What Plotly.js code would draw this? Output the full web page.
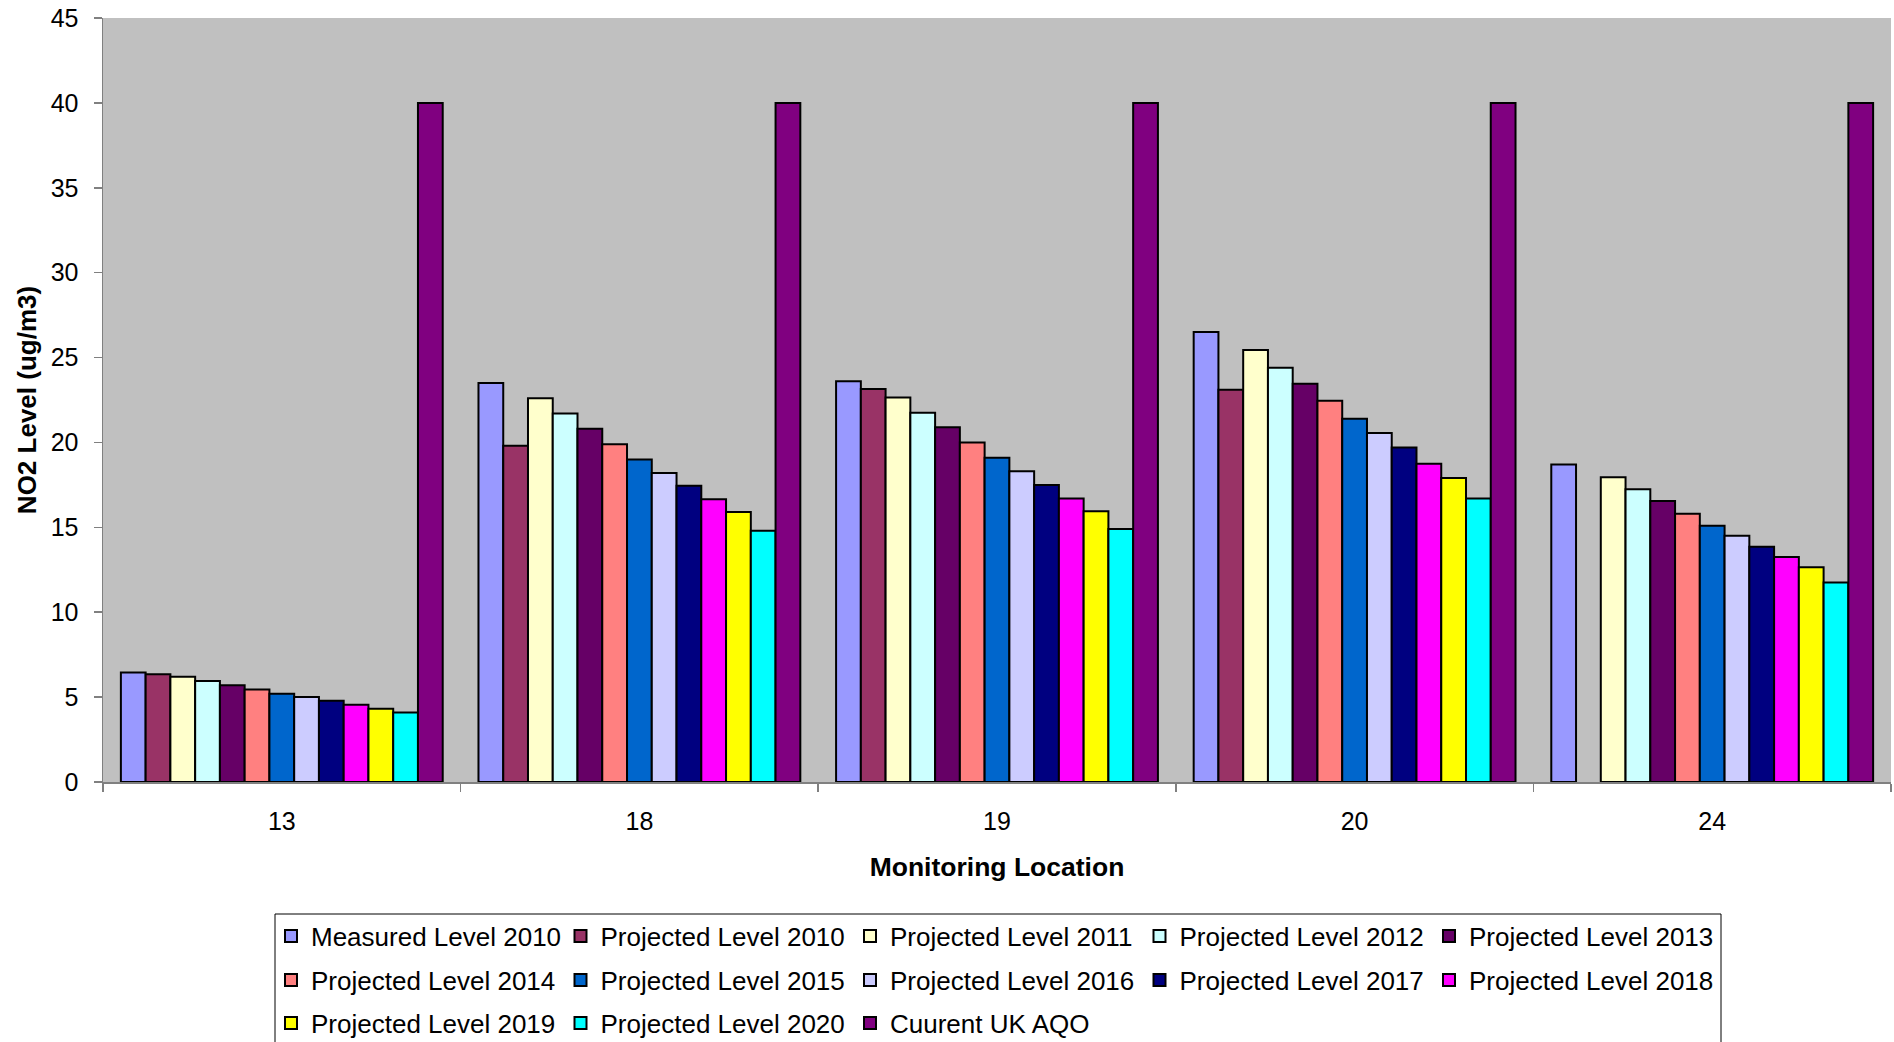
<!DOCTYPE html>
<html>
<head>
<meta charset="utf-8">
<script src="https://cdn.plot.ly/plotly-3.0.1.min.js"></script>
<style>
html,body{margin:0;padding:0;background:#fff;}
#chart{width:1894px;height:1042px;}
</style>
</head>
<body>
<div id="chart"></div>
<script>
const locations = ['13', '18', '19', '20', '24'];

const measured2010  = [6.45, 23.5, 23.6, 26.5, 18.7];
const projected2010 = [6.35, 19.8, 23.15, 23.1, null];
const projected2011 = [6.2, 22.6, 22.65, 25.45, 17.95];
const projected2012 = [5.95, 21.7, 21.75, 24.4, 17.25];
const projected2013 = [5.7, 20.8, 20.9, 23.45, 16.55];
const projected2014 = [5.45, 19.9, 20.0, 22.45, 15.8];
const projected2015 = [5.2, 19.0, 19.1, 21.4, 15.1];
const projected2016 = [5.0, 18.2, 18.3, 20.55, 14.5];
const projected2017 = [4.78, 17.45, 17.5, 19.7, 13.85];
const projected2018 = [4.55, 16.65, 16.7, 18.75, 13.25];
const projected2019 = [4.32, 15.9, 15.95, 17.9, 12.65];
const projected2020 = [4.1, 14.8, 14.9, 16.7, 11.75];
const currentAQO    = [40, 40, 40, 40, 40];

const seriesNames = [
  'Measured Level 2010', 'Projected Level 2010', 'Projected Level 2011',
  'Projected Level 2012', 'Projected Level 2013', 'Projected Level 2014',
  'Projected Level 2015', 'Projected Level 2016', 'Projected Level 2017',
  'Projected Level 2018', 'Projected Level 2019', 'Projected Level 2020',
  'Cuurent UK AQO'
];
const seriesValues = [
  measured2010, projected2010, projected2011, projected2012, projected2013,
  projected2014, projected2015, projected2016, projected2017, projected2018,
  projected2019, projected2020, currentAQO
];
const seriesColors = [
  '#9999FF', '#993366', '#FFFFCC', '#CCFFFF', '#660066', '#FF8080',
  '#0066CC', '#CCCCFF', '#000080', '#FF00FF', '#FFFF00', '#00FFFF', '#800080'
];

const FONT = '"Liberation Sans", Arial, Helvetica, sans-serif';
const legendIds = ['legend', 'legend2', 'legend3'];

const traces = seriesNames.map((name, i) => ({
  type: 'bar',
  name: name,
  x: locations,
  y: seriesValues[i],
  legend: legendIds[Math.floor(i / 5)],
  marker: { color: seriesColors[i], line: { color: '#000000', width: 2 } },
  hoverinfo: 'x+y+name'
}));

// pixel geometry of the plot area
const L = 103, T = 18, W = 1788, H = 764, B = T + H;
const px2x = p => (p - L) / W;
const py2y = p => (B - p) / H;

function legendRow(centerY) {
  return {
    orientation: 'h',
    x: px2x(271),
    xanchor: 'left',
    y: py2y(centerY),
    yanchor: 'middle',
    bgcolor: 'rgba(0,0,0,0)',
    borderwidth: 0,
    font: { family: FONT, size: 26, color: '#000000' },
    entrywidth: 244.5,
    entrywidthmode: 'pixels',
    traceorder: 'normal',
    itemclick: false
  };
}

const layout = {
  width: 1894,
  height: 1042,
  paper_bgcolor: '#ffffff',
  plot_bgcolor: '#C0C0C0',
  font: { family: FONT, color: '#000000', size: 25 },
  margin: { l: L, r: 1894 - L - W, t: T, b: 1042 - B, autoexpand: false },
  barmode: 'group',
  bargap: 0.1,
  bargroupgap: 0,
  showlegend: true,
  legend: legendRow(936),
  legend2: legendRow(980),
  legend3: legendRow(1023),
  shapes: [{
    type: 'rect', xref: 'paper', yref: 'paper',
    x0: px2x(275), x1: px2x(1721), y0: py2y(914), y1: py2y(1060),
    line: { color: '#000000', width: 1 }, fillcolor: 'rgba(0,0,0,0)', layer: 'above'
  }],
  xaxis: {
    type: 'category',
    showgrid: false,
    zeroline: false,
    showline: true,
    linecolor: '#808080',
    linewidth: 1.5,
    ticks: 'outside',
    tickson: 'boundaries',
    ticklen: 8,
    tickcolor: '#808080',
    tickwidth: 1.5,
    tickfont: { family: FONT, size: 25 },
    ticklabelstandoff: 16,
    title: { text: '<b>Monitoring Location</b>', font: { family: FONT, size: 26.5 }, standoff: 24 },
    automargin: false
  },
  yaxis: {
    range: [0, 45],
    dtick: 5,
    tick0: 0,
    showgrid: false,
    zeroline: false,
    showline: true,
    linecolor: '#808080',
    linewidth: 1.5,
    ticks: 'outside',
    ticklen: 8,
    tickcolor: '#808080',
    tickwidth: 1.5,
    tickfont: { family: FONT, size: 25 },
    ticklabelstandoff: 10,
    title: { text: '<b>NO2 Level (ug/m3)</b>', font: { family: FONT, size: 26 }, standoff: 6 },
    automargin: false
  }
};

Plotly.newPlot('chart', traces, layout, { displayModeBar: false, staticPlot: true });
</script>
</body>
</html>
